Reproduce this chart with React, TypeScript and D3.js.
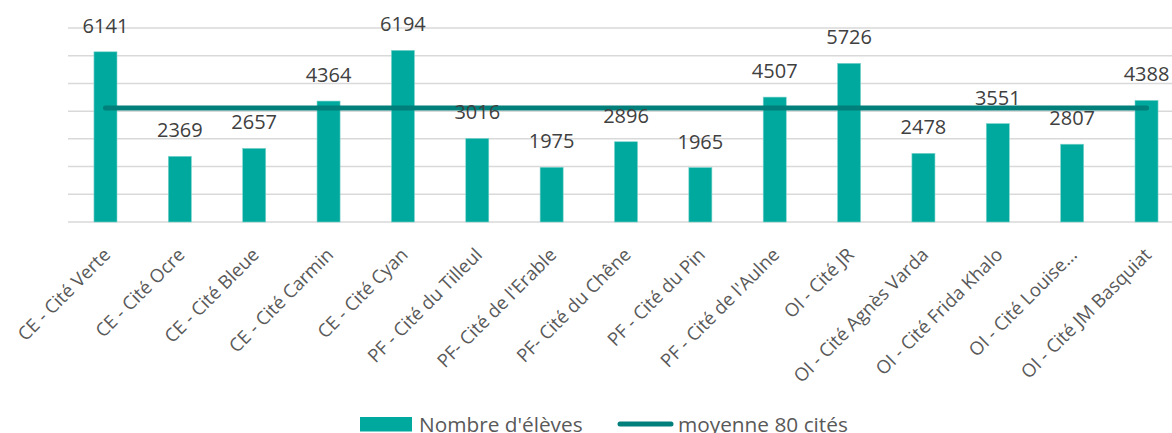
import React from "react";
import * as d3 from "d3";

const categories = [
  "CE - Cité Verte",
  "CE - Cité Ocre",
  "CE - Cité Bleue",
  "CE - Cité Carmin",
  "CE - Cité Cyan",
  "PF - Cité du Tilleul",
  "PF- Cité de l'Erable",
  "PF- Cité du Chêne",
  "PF - Cité du Pin",
  "PF - Cité de l'Aulne",
  "OI - Cité JR",
  "OI - Cité Agnès Varda",
  "OI - Cité Frida Khalo",
  "OI - Cité Louise...",
  "OI - Cité JM Basquiat",
];
const eleves = [6141, 2369, 2657, 4364, 6194, 3016, 1975, 2896, 1965, 4507, 5726, 2478, 3551, 2807, 4388];
const moyenne = categories.map(() => 4110);
const gridTicks = [0, 1000, 2000, 3000, 4000, 5000, 6000, 7000];
const legendLabels = ["Nombre d'élèves", "moyenne 80 cités"];

const W = 1172;
const H = 433;
const FONT = "'Open Sans', 'Noto Sans', sans-serif";
const BAR = "#00A99D";
const LINE = "#007F7B";
const TEXT = "#404040";
const AXIS_TEXT = "#595959";

export default function App() {
  const x = d3.scalePoint<string>().domain(categories).range([68.3, 1183.7]).padding(0.5);
  const step = x.step();
  const bw = step * 0.31;
  const y = d3.scaleLinear().domain([0, 7000]).range([222, 28]);
  const line = d3
    .line<number>()
    .x((_, i) => x(categories[i])!)
    .y((d) => y(d));

  return (
    <svg
      width={W}
      height={H}
      style={{ position: "fixed", left: 0, top: 0, background: "#fff" }}
      fontFamily={FONT}
    >
      {gridTicks.map((t) => (
        <line key={t} x1={68} x2={W} y1={y(t)} y2={y(t)} stroke="#D9D9D9" strokeWidth={1.5} />
      ))}
      {eleves.map((v, i) => {
        const cx = x(categories[i])!;
        return (
          <rect
            key={i}
            x={cx - bw / 2}
            y={y(v)}
            width={bw}
            height={y(0) - y(v)}
            fill={BAR}
            stroke="#7FD4CE"
            strokeWidth={0.6}
          />
        );
      })}
      <path d={line(moyenne)!} fill="none" stroke={LINE} strokeWidth={5} strokeLinecap="round" />
      {eleves.map((v, i) => (
        <text
          key={i}
          x={x(categories[i])!}
          y={y(v) - 19}
          textAnchor="middle"
          fontSize={20}
          fill={TEXT}
        >
          {v}
        </text>
      ))}
      {categories.map((c, i) => {
        const cx = x(categories[i])!;
        return (
          <text
            key={c}
            transform={`translate(${cx + 6},${256}) rotate(-45)`}
            textAnchor="end"
            fontSize={18.5}
            fill={AXIS_TEXT}
          >
            {c}
          </text>
        );
      })}
      <rect x={360} y={417} width={52} height={14.5} fill={BAR} />
      <text x={419} y={432} fontSize={20.8} fill={AXIS_TEXT}>
        {legendLabels[0]}
      </text>
      <line x1={620} x2={671} y1={424} y2={424} stroke={LINE} strokeWidth={5} strokeLinecap="round" />
      <text x={678} y={432} fontSize={20.8} fill={AXIS_TEXT}>
        {legendLabels[1]}
      </text>
    </svg>
  );
}
